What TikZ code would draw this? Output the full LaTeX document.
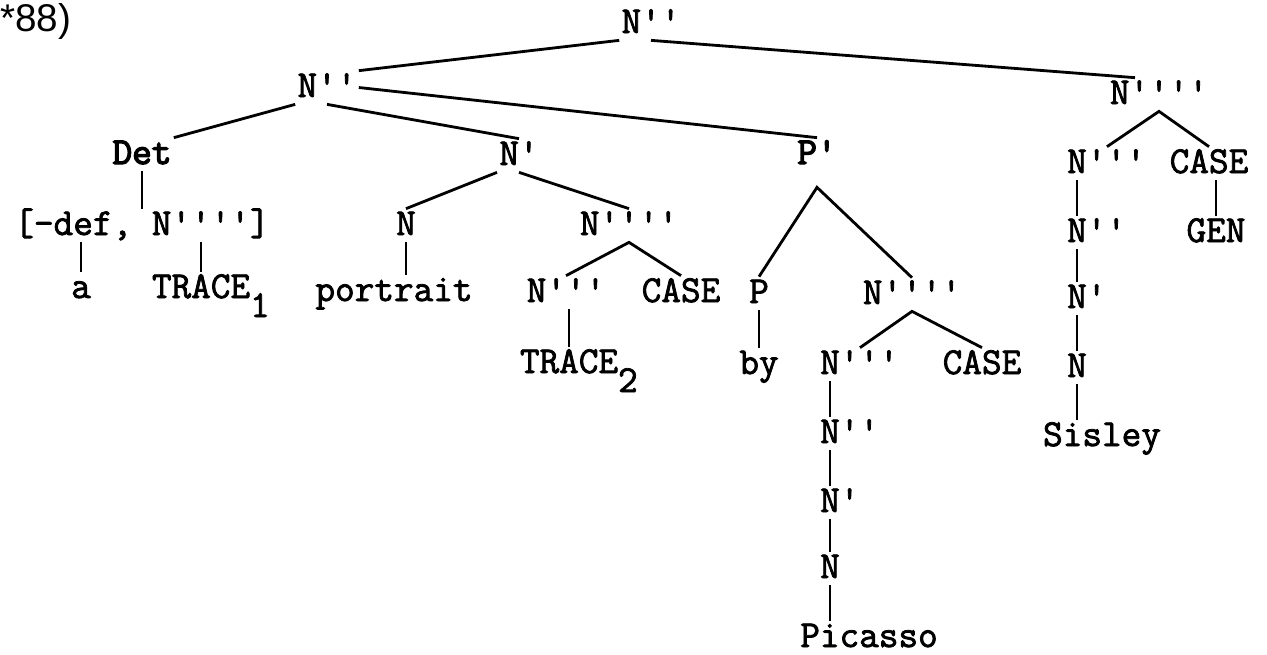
\documentclass[tikz,border=0pt]{standalone}
\usepackage{fontspec}
\newfontfamily\sfl{Liberation Sans}
\newfontfamily\tw{Latin Modern Mono}[FakeBold=2]
\newfontfamily\twb{Latin Modern Mono}[FakeBold=3.5]
\usetikzlibrary{calc}
\newcommand{\prm}{\textquotesingle}
\newcommand{\subsc}[1]{\rlap{\raisebox{-0.38cm}{#1}}}
\tikzstyle{lbl} = [font=\tw\fontsize{21.7}{24}\selectfont, anchor=base, inner xsep=0.04cm, inner ysep=0.04cm, text height=0.48cm, text depth=0.1cm]
\tikzstyle{lblb} = [lbl, font=\twb\fontsize{21.7}{24}\selectfont]
\tikzstyle{br} = [line width=1.6pt]

\begin{document}
\begin{tikzpicture}[x=0.02cm, y=-0.02cm]
\useasboundingbox (0,0) rectangle (1267,654);

\node at (0,31) (tag) [anchor=base west, inner sep=0pt, font=\sfl\fontsize{22}{24}\selectfont] {*88)};

\node at (651, 33) (root) [lbl] {N\prm\prm};
\node at (327, 97) (lt) [lbl] {N\prm\prm};
\node at (1159, 104) (rt) [lbl] {N\prm\prm\prm\prm};

\node at (142, 164) (det) [lblb] {Det};
\node at (519, 165) (nb) [lbl] {N\prm};
\node at (817, 164) (pb) [lblb] {P\prm};

\node at (142, 235) (feat) [lbl] {[-def, N\prm\prm\prm\prm]};
\node at (81, 298) (a) [lbl] {a};
\node at (201, 298) (t1) [lbl] {TRACE\subsc{1}};

\node at (406, 235) (n1) [lbl] {N};
\node at (394, 301) (port) [lbl] {portrait};
\node at (629, 235) (nq) [lbl] {N\prm\prm\prm\prm};
\node at (566, 302) (n3) [lbl] {N\prm\prm\prm};
\node at (681, 302) (c1) [lbl] {CASE};
\node at (569, 373) (t2) [lbl] {TRACE\subsc{2}};

\node at (759, 303) (p) [lbl] {P};
\node at (759, 374) (by) [lbl] {by};
\node at (912, 304) (np) [lbl] {N\prm\prm\prm\prm};
\node at (830, 374) (q3) [lbl] {N\rlap{\prm\prm\prm}};
\node at (982, 374) (c2) [lbl] {CASE};
\node at (830, 443) (q2) [lbl] {N\rlap{\prm\prm}};
\node at (830, 512) (q1) [lbl] {N\rlap{\prm}};
\node at (830, 578) (q0) [lbl] {N};
\node at (869, 647) (pic) [lbl] {Picasso};

\node at (1077, 173) (s3) [lbl] {N\rlap{\prm\prm\prm}};
\node at (1209, 173) (c3) [lbl] {CASE};
\node at (1077, 242) (s2) [lbl] {N\rlap{\prm\prm}};
\node at (1216, 242) (gen) [lbl] {GEN};
\node at (1077, 308) (s1) [lbl] {N\rlap{\prm}};
\node at (1077, 377) (s0) [lbl] {N};
\node at (1102, 446) (sis) [lbl] {Sisley};

\draw[br] (root.south west) -- (lt.north east);
\draw[br] (root.south) -- ($(rt.north)+(-24,0)$);
\draw[br] (lt.south west) -- (det.north east);
\draw[br] (lt.south) -- (nb.north);
\draw[br] (lt.east) -- (pb.north);

\draw[br] (det.south) -- (feat.north);
\draw[br] (a.north |- feat.south) -- (a.north);
\draw[br] (t1.north |- feat.south) -- (t1.north);

\draw[br] (nb.south west) -- (n1.north);
\draw[br] (nb.south) -- (nq.north);
\draw[br] (n1.south) -- (n1.south |- port.north);
\draw[br] (n3.north) -- (nq.south) -- (c1.north);
\draw[br] (t2.north |- n3.south) -- (t2.north);

\coordinate (pa) at ($(pb.south)+(0,16)$);
\draw[br] (p.north) -- (pa) -- (np.north);
\draw[br] (p.south) -- (by.north);
\draw[br] ($(q3.north)+(30,0)$) -- (np.south) -- (c2.north);
\draw[br] (q3) -- (q2);
\draw[br] (q2) -- (q1);
\draw[br] (q1) -- (q0);
\draw[br] (q0.south) -- (q0.south |- pic.north);

\draw[br] ($(s3.north)+(30,0)$) -- (rt.south) -- (c3.north);
\draw[br] (gen.north |- c3.south) -- (gen.north);
\draw[br] (s3) -- (s2);
\draw[br] (s2) -- (s1);
\draw[br] (s1) -- (s0);
\draw[br] (s0.south) -- (s0.south |- sis.north);

\end{tikzpicture}
\end{document}
